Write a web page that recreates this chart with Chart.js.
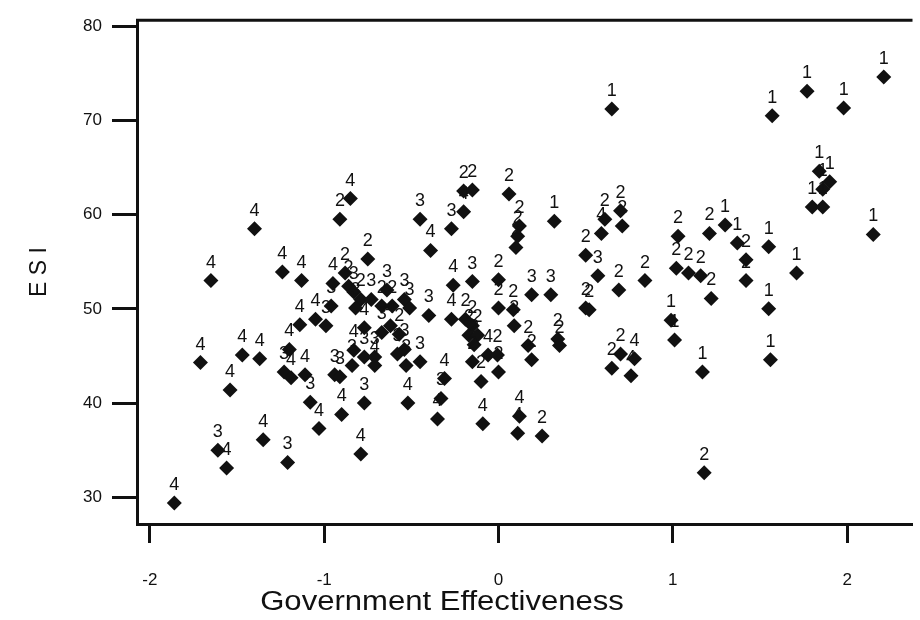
<!DOCTYPE html>
<html>
<head>
<meta charset="utf-8">
<script src="https://cdn.jsdelivr.net/npm/chart.js@4.4.1/dist/chart.umd.min.js"></script>
<style>
  html, body { margin: 0; background: #fff; }
  canvas { display: block; }
</style>
</head>
<body>
<canvas id="esiChart" width="920" height="620"></canvas>
<script>
/* ESI vs government effectiveness, points labelled by group */

const GOV_EFF = [
  -1.86, -1.61, -1.56, -1.35, -1.21, -1.54, -1.03, -1.08, -1.40, -1.65,
  -1.24, -1.13, -0.96, -1.14, -1.05, -0.99, -1.71, -1.47, -1.37, -1.20,
  -1.23, -1.19, -1.11, -0.94, -0.85, -0.91,
  -0.95, -0.88, -0.86, -0.83, -0.79, -0.82, -0.73, -0.64, -0.67, -0.61,
  -0.54, -0.51, -0.40,
  -0.77, -0.67, -0.62, -0.57, -0.54, -0.58, -0.83, -0.77, -0.71, -0.84,
  -0.71, -0.45, -0.53, -0.91, -0.31, -0.90, -0.77, -0.79, -0.52, -0.33,
  -0.35, -0.09, -0.10, 0.12, 0.11, 0.25, 1.18,
  -0.45, -0.27, -0.20, -0.20, -0.15, -0.39, 0.06, 0.12, 0.11, 0.10, -0.75,
  -0.26, -0.15, 0.00, 0.00, 0.085, 0.09, -0.27, -0.19, -0.15, -0.17,
  -0.12, -0.14, -0.06, -0.006, -0.15, 0.00,
  0.32, 0.61, 0.59, 0.70, 0.71, 0.50, 0.57, 0.69, 0.84, 0.19,
  0.30, 0.50, 0.52, 0.17, 0.19, 0.34, 0.35, 0.70, 0.65, 0.78,
  0.76, 0.99, 1.01, 1.17,
  1.03, 1.21, 1.02, 1.09, 1.16, 1.22, 1.30, 1.37, 1.42, 1.42,
  1.55, 1.71, 1.55, 1.56, 2.15, 0.65, 1.57, 1.77, 1.98, 2.21,
  1.84, 1.90, 1.86, 1.80, 1.86
];

const ESI_SCORE = [
  29.4, 35.0, 33.1, 36.1, 33.7, 41.4, 37.3, 40.1, 58.5, 53.0,
  53.9, 53.0, 50.3, 48.3, 48.9, 48.2, 44.3, 45.1, 44.7, 45.7,
  43.3, 42.7, 43.0, 43.0, 61.7, 59.5,
  52.7, 53.8, 52.4, 51.8, 51.0, 50.1, 51.0, 52.0, 50.3, 50.3,
  51.0, 50.1, 49.3,
  48.0, 47.5, 48.2, 47.3, 45.7, 45.2, 45.6, 44.9, 44.9, 44.0,
  44.0, 44.4, 44.0, 42.8, 42.6, 38.8, 40.0, 34.6, 40.0, 40.5,
  38.3, 37.8, 42.3, 38.6, 36.8, 36.5, 32.6,
  59.5, 58.5, 60.3, 62.5, 62.6, 56.2, 62.2, 58.8, 57.7, 56.5, 55.3,
  52.5, 52.9, 53.1, 50.1, 49.9, 48.2, 48.9, 48.9, 48.2, 47.2,
  47.2, 46.2, 45.1, 45.1, 44.4, 43.3,
  59.3, 59.5, 58.0, 60.4, 58.8, 55.7, 53.5, 52.0, 53.0, 51.5,
  51.5, 50.1, 49.9, 46.1, 44.6, 46.8, 46.1, 45.2, 43.7, 44.7,
  42.9, 48.8, 46.7, 43.3,
  57.7, 58.0, 54.3, 53.8, 53.5, 51.1, 58.9, 57.0, 55.2, 53.0,
  56.6, 53.8, 50.0, 44.6, 57.9, 71.2, 70.5, 73.1, 71.3, 74.6,
  64.6, 63.5, 62.7, 60.8, 60.8
];

const GROUP = [
  4, 3, 4, 4, 3, 4, 4, 3, 4, 4,
  4, 4, 3, 4, 4, 3, 4, 4, 4, 4,
  3, 4, 4, 3, 4, 2,
  4, 2, 2, 3, 2, 3, 3, 3, 2, 2,
  3, 3, 3,
  4, 3, 4, 2, 3, 3, 4, 3, 3, 3,
  4, 3, 3, 3, 4, 4, 3, 4, 4, 3,
  4, 4, 2, 4, 4, 2, 2,
  3, 3, 4, 2, 2, 4, 2, 2, 2, 2, 2,
  4, 3, 2, 2, 2, 2, 4, 2, 2, 2,
  2, 2, 4, 2, 2, 2,
  1, 2, 4, 2, 2, 2, 3, 2, 2, 3,
  3, 2, 2, 2, 2, 2, 2, 2, 2, 4,
  4, 1, 1, 1,
  2, 2, 2, 2, 2, 2, 1, 1, 2, 2,
  1, 1, 1, 1, 1, 1, 1, 1, 1, 1,
  1, 1, 1, 1, 1
];

const X_TICKS = [-2, -1, 0, 1, 2];
const Y_TICKS = [30, 40, 50, 60, 70, 80];

const INK = '#111';
const FONT = '"Liberation Sans", Arial, sans-serif';

// group number written above each diamond
const pointLabels = {
  id: 'pointLabels',
  afterDatasetsDraw(chart) {
    const ctx = chart.ctx;
    const meta = chart.getDatasetMeta(0);
    ctx.save();
    ctx.font = '18px ' + FONT;
    ctx.fillStyle = INK;
    ctx.textAlign = 'center';
    ctx.textBaseline = 'alphabetic';
    meta.data.forEach((pt, i) => ctx.fillText(String(GROUP[i]), pt.x, pt.y - 13));
    ctx.restore();
  },
};

// top edge of the box + x axis title (the scan's lettering is a bit wide)
const frame = {
  id: 'frame',
  afterDraw(chart) {
    const { ctx, chartArea: a } = chart;
    ctx.save();
    ctx.strokeStyle = INK;
    ctx.lineWidth = 3;
    ctx.beginPath();
    ctx.moveTo(a.left - 1, a.top);
    ctx.lineTo(a.right, a.top);
    ctx.stroke();
    ctx.font = '27px ' + FONT;
    ctx.fillStyle = INK;
    ctx.textAlign = 'center';
    ctx.textBaseline = 'middle';
    ctx.translate(442, 603);
    ctx.scale(1.15, 1);
    ctx.fillText('Government Effectiveness', 0, 0);
    ctx.restore();
  },
};

const points = GOV_EFF.map((x, i) => ({ x, y: ESI_SCORE[i] }));

new Chart(document.getElementById('esiChart'), {
  type: 'scatter',
  data: {
    datasets: [{
      data: points,
      pointStyle: 'rectRot',
      pointRadius: 7.5,
      pointHoverRadius: 7.5,
      backgroundColor: INK,
      borderColor: INK,
      borderWidth: 0,
    }],
  },
  options: {
    responsive: false,
    animation: false,
    events: [],
    layout: { padding: { top: 14, left: 0, right: 0, bottom: 0 } },
    plugins: { legend: { display: false }, tooltip: { enabled: false } },
    scales: {
      x: {
        type: 'linear',
        min: -2.074,
        max: 2.375,
        afterBuildTicks: (s) => { s.ticks = X_TICKS.map((v) => ({ value: v })); },
        afterFit: (s) => { s.height = 96; },
        grid: { drawOnChartArea: false, tickLength: 19, tickWidth: 3, tickColor: INK },
        border: { display: true, color: INK, width: 3 },
        ticks: { color: INK, padding: 27, font: { family: FONT, size: 17 } },
      },
      y: {
        type: 'linear',
        min: 27.17,
        max: 80.63,
        afterBuildTicks: (s) => { s.ticks = Y_TICKS.map((v) => ({ value: v })); },
        afterFit: (s) => { s.width = 137; },
        grid: { drawOnChartArea: false, tickLength: 25, tickWidth: 3, tickColor: INK },
        border: { display: true, color: INK, width: 3 },
        ticks: { color: INK, padding: 10, font: { family: FONT, size: 17 } },
        title: {
          display: true,
          text: 'E S I',
          color: INK,
          font: { family: FONT, size: 23 },
          padding: { top: 26, bottom: 0 },
        },
      },
    },
  },
  plugins: [pointLabels, frame],
});
</script>
</body>
</html>
